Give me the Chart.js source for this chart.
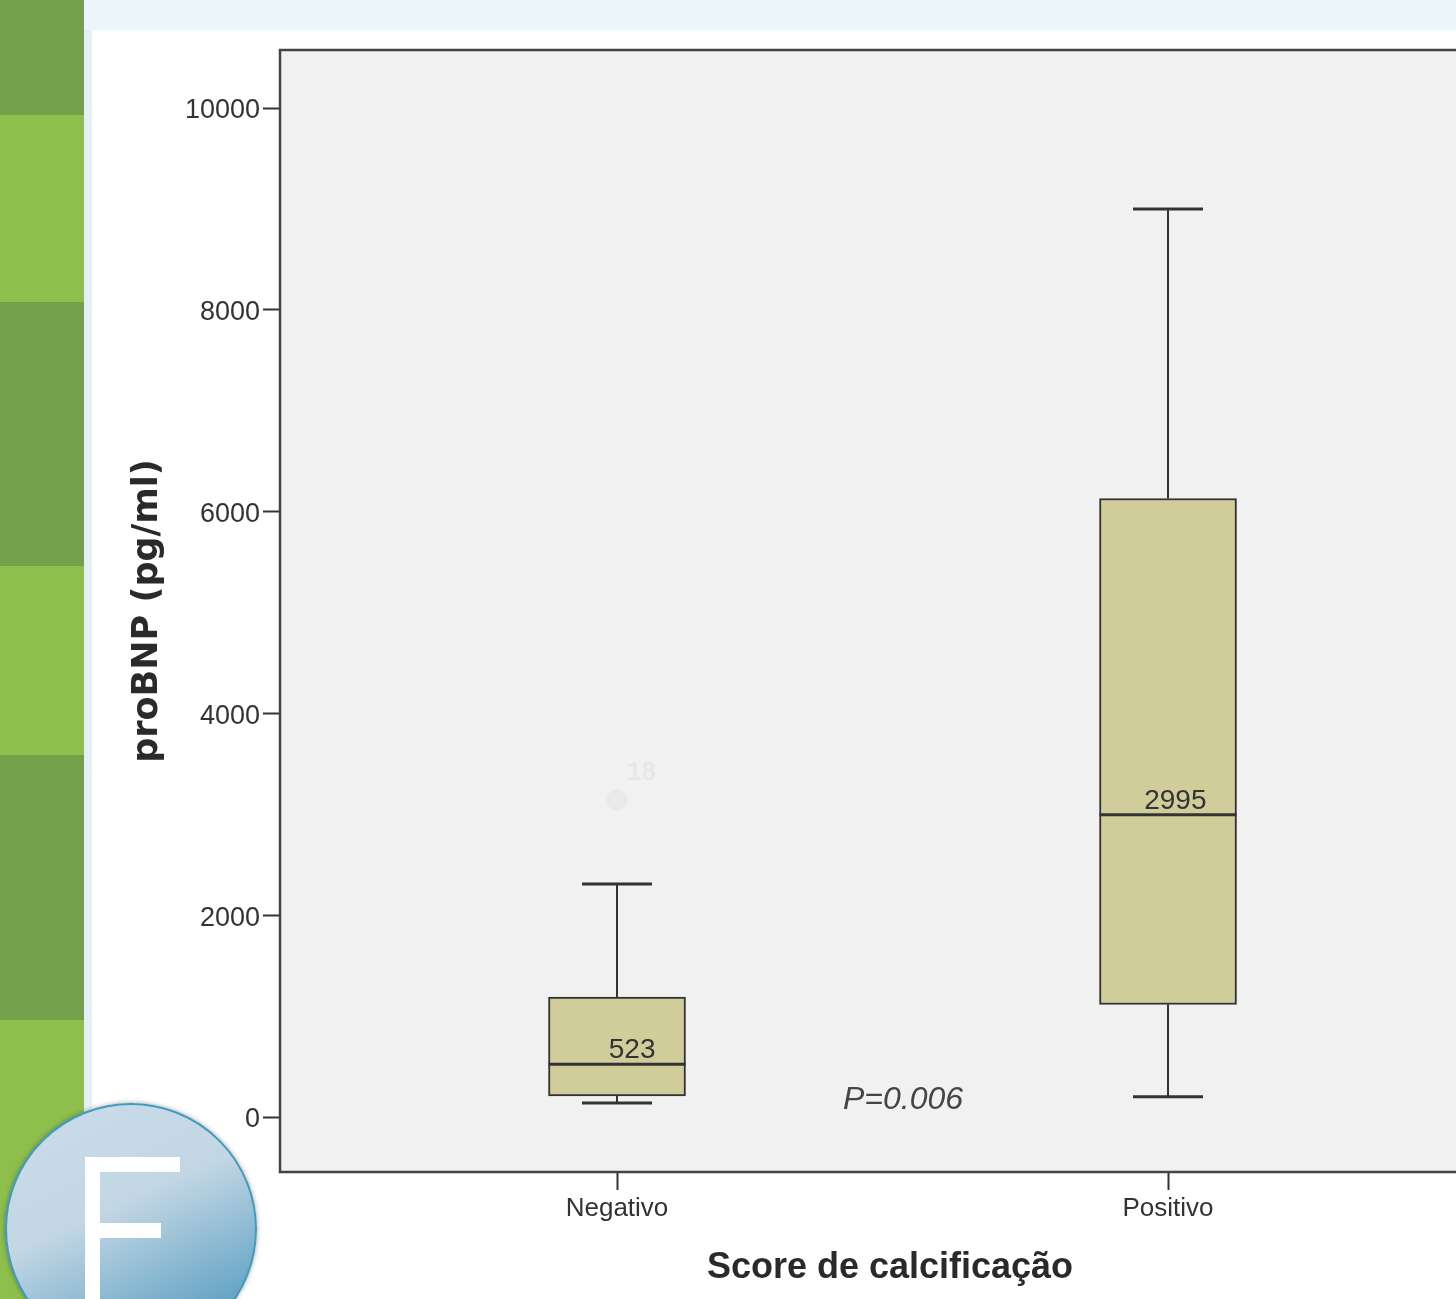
<!DOCTYPE html>
<html>
<head>
<meta charset="utf-8">
<script src="https://cdn.jsdelivr.net/npm/chart.js@4.4.1/dist/chart.umd.min.js"></script>
<style>
  html, body { margin: 0; padding: 0; width: 1456px; height: 1299px; overflow: hidden; background: #ffffff; }
  .stripe { position: absolute; left: 0; width: 84px; }
  .dark { background: #73a04a; }
  .light { background: #8ebf4d; }
  #edge { position: absolute; left: 84px; top: 0; width: 8px; height: 1299px; background: #e4eff6; }
  #band { position: absolute; left: 84px; top: 0; width: 1372px; height: 30px; background: #ecf5f9; }
  #wrap { position: absolute; left: 92px; top: 30px; width: 1420px; height: 1269px; }
  #logo { position: absolute; left: 5px; top: 1103px; width: 248px; height: 248px; border-radius: 50%;
          border: 2px solid #3d9cbc; overflow: hidden; z-index: 5;
          background: linear-gradient(155deg, #cbdce8 0%, #c2d6e4 42%, #86b6d0 68%, #5a9dc1 88%, #4a90b6 100%);
          box-shadow: 0 0 5px rgba(0,0,0,0.35); }
  .e { position: absolute; background: #ffffff; }
</style>
</head>
<body>
<div class="stripe dark" style="top:0;height:115px"></div>
<div class="stripe light" style="top:115px;height:187px"></div>
<div class="stripe dark" style="top:302px;height:264px"></div>
<div class="stripe light" style="top:566px;height:189px"></div>
<div class="stripe dark" style="top:755px;height:265px"></div>
<div class="stripe light" style="top:1020px;height:279px"></div>
<div id="edge"></div>
<div id="band"></div>
<div id="wrap"><canvas id="c" width="1420" height="1269"></canvas></div>
<div id="logo">
  <div class="e" style="left:78px;top:52px;width:15px;height:200px"></div>
  <div class="e" style="left:78px;top:52px;width:95px;height:15px"></div>
  <div class="e" style="left:78px;top:118px;width:76px;height:15px"></div>
</div>
<script>
// Box-plot summary of proBNP by calcification score
const categories = ['Negativo', 'Positivo'];
const whiskerLow = [139, 200];
const q1 = [208, 1115];
const medians = [523, 2995];
const q3 = [1189, 6130];
const whiskerHigh = [2309, 9000];
const outlierValues = [3142];
const outlierGroup = [0];
const outlierLabels = ['18'];
const yTicks = [0, 2000, 4000, 6000, 8000, 10000];
const pValueText = 'P=0.006';

const AX = '#333333';

const boxPlugin = {
  id: 'boxParts',
  beforeDraw(chart) {
    const { ctx, chartArea: a } = chart;
    ctx.save();
    ctx.fillStyle = '#f0f1f0';
    ctx.fillRect(a.left, a.top, a.right - a.left, a.bottom - a.top);
    ctx.restore();
  },
  afterDatasetsDraw(chart) {
    const { ctx, scales: { x, y }, chartArea: a } = chart;
    ctx.save();
    ctx.strokeStyle = AX;
    categories.forEach((c, i) => {
      const cx = x.getPixelForValue(i + 1);
      const half = 68.5;
      const cap = 35;
      // whiskers
      ctx.lineWidth = 2;
      ctx.beginPath();
      ctx.moveTo(cx, y.getPixelForValue(q3[i]));
      ctx.lineTo(cx, y.getPixelForValue(whiskerHigh[i]));
      ctx.moveTo(cx, y.getPixelForValue(q1[i]));
      ctx.lineTo(cx, y.getPixelForValue(whiskerLow[i]));
      ctx.stroke();
      ctx.lineWidth = 3;
      ctx.beginPath();
      ctx.moveTo(cx - cap, y.getPixelForValue(whiskerHigh[i]));
      ctx.lineTo(cx + cap, y.getPixelForValue(whiskerHigh[i]));
      ctx.moveTo(cx - cap, y.getPixelForValue(whiskerLow[i]));
      ctx.lineTo(cx + cap, y.getPixelForValue(whiskerLow[i]));
      ctx.stroke();
      // median
      const my = y.getPixelForValue(medians[i]);
      ctx.lineWidth = 3;
      ctx.beginPath();
      ctx.moveTo(cx - half, my);
      ctx.lineTo(cx + half, my);
      ctx.stroke();
      ctx.fillStyle = '#333333';
      ctx.font = '28px "Liberation Sans", Arial, sans-serif';
      ctx.textAlign = 'right';
      ctx.textBaseline = 'alphabetic';
      ctx.fillText(String(medians[i]), cx + half - 30, my - 6);
    });
    // faint outlier labels
    ctx.fillStyle = '#e6e7e6';
    ctx.font = 'bold 26px "Liberation Sans", Arial, sans-serif';
    ctx.textAlign = 'left';
    outlierValues.forEach((v, k) => {
      ctx.fillText(outlierLabels[k], x.getPixelForValue(outlierGroup[k] + 1) + 10, y.getPixelForValue(v) - 20);
    });
    // test annotation
    ctx.fillStyle = '#454545';
    ctx.font = 'italic 32px "Liberation Sans", Arial, sans-serif';
    ctx.textAlign = 'center';
    ctx.textBaseline = 'middle';
    ctx.fillText(pValueText, x.getPixelForValue(1.519), y.getPixelForValue(170));
    // plot frame
    ctx.strokeStyle = '#444444';
    ctx.lineWidth = 2.5;
    ctx.strokeRect(a.left, a.top, a.right - a.left, a.bottom - a.top);
    ctx.restore();
  }
};

new Chart(document.getElementById('c'), {
  type: 'bar',
  data: {
    datasets: [
      {
        type: 'bar',
        data: categories.map((c, i) => ({ x: i + 1, y: [q1[i], q3[i]] })),
        backgroundColor: '#d0cd9b',
        borderColor: AX,
        borderWidth: 2,
        borderSkipped: false,
        barThickness: 137
      },
      {
        type: 'scatter',
        data: outlierValues.map((v, k) => ({ x: outlierGroup[k] + 1, y: v })),
        pointRadius: 10,
        backgroundColor: '#e8e9e8',
        borderColor: '#e8e9e8'
      }
    ]
  },
  options: {
    responsive: false,
    animation: false,
    devicePixelRatio: 1,
    layout: { padding: { top: 20, right: 12, left: 0, bottom: 0 } },
    plugins: { legend: { display: false }, tooltip: { enabled: false } },
    scales: {
      x: {
        type: 'linear',
        offset: false,
        min: 0.3884,
        max: 2.6025,
        afterBuildTicks: s => { s.ticks = categories.map((c, i) => ({ value: i + 1 })); },
        afterFit: s => { s.height = 127; },
        grid: { offset: false, drawOnChartArea: false, drawTicks: true, tickLength: 18, tickWidth: 2, tickColor: AX },
        border: { display: false },
        ticks: {
          padding: 3,
          color: '#333333',
          font: { family: '"Liberation Sans", Arial, sans-serif', size: 26 },
          callback: v => categories[v - 1]
        },
        title: {
          display: true,
          text: 'Score de calcificação',
          color: '#2a2a2a',
          font: { family: '"Liberation Sans", Arial, sans-serif', size: 36, weight: 'bold' },
          padding: { top: 0, bottom: 9 }
        }
      },
      y: {
        type: 'linear',
        min: -545,
        max: 10575,
        afterBuildTicks: s => { s.ticks = yTicks.map(v => ({ value: v })); },
        afterFit: s => { s.width = 188; },
        grid: { drawOnChartArea: false, drawTicks: true, tickLength: 17, tickWidth: 2, tickColor: AX },
        border: { display: false },
        ticks: {
          padding: 3,
          labelOffset: 3,
          color: '#333333',
          font: { family: '"Liberation Sans", Arial, sans-serif', size: 27 },
          callback: v => String(v)
        },
        title: {
          display: true,
          text: 'proBNP (pg/ml)',
          color: '#2a2a2a',
          font: { family: '"DejaVu Sans", sans-serif', size: 35, weight: 'bold' },
          padding: { top: 35, bottom: 0 }
        }
      }
    }
  },
  plugins: [boxPlugin]
});
</script>
</body>
</html>
